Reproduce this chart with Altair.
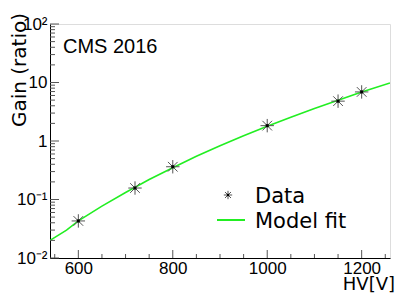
import altair as alt
import pandas as pd

# Measured data (gain ratio vs HV)
hv_data = [600, 720, 800, 1000, 1150, 1200]
gain_data = [0.043, 0.157, 0.363, 1.83, 4.8, 6.9]

# Model fit curve
hv_fit = [540, 575, 600, 650, 700, 750, 800, 850, 900, 950, 1000, 1050, 1100, 1150, 1200, 1260]
gain_fit = [0.020, 0.030, 0.043, 0.077, 0.132, 0.22, 0.35, 0.547, 0.83, 1.23, 1.79, 2.55, 3.59, 4.97, 6.85, 9.8]

x_major = [600, 800, 1000, 1200]
x_minor = [550, 650, 700, 750, 850, 900, 950, 1050, 1100, 1150, 1250]
y_major = [0.01, 0.1, 1, 10, 100]
y_minor = [m * d for d in [0.01, 0.1, 1, 10] for m in range(2, 10)]

W, H = 340, 234
FONT = "Liberation Sans"
LF = "DejaVu Sans"

xs = alt.Scale(domain=[540, 1260], nice=False, zero=False)
ys = alt.Scale(type="log", domain=[0.01, 100], nice=False)

df = pd.DataFrame({"hv": hv_data, "gain": gain_data})
fit = pd.DataFrame({"hv": hv_fit, "gain": gain_fit})

ylabel_expr = ("datum.value > 50 ? '10²' : datum.value > 5 ? '10' : datum.value > 0.5 ? '1' : "
               "datum.value > 0.05 ? '10⁻¹' : '10⁻²'")

base_x = alt.X("hv:Q", scale=xs,
               axis=alt.Axis(values=x_major, ticks=False, grid=False, title=None, format="d",
                             labelFont=FONT, labelFontSize=17, labelColor="black",
                             labelPadding=2, domainColor="black", labelFlush=False))
base_y = alt.Y("gain:Q", scale=ys,
               axis=alt.Axis(values=y_major, ticks=False, grid=False, title=None,
                             labelExpr=ylabel_expr, labelFont=FONT, labelFontSize=17,
                             labelColor="black", labelPadding=3, domainColor="black",
                             labelFlush=False))

line = alt.Chart(fit).mark_line(color="#22ee22", strokeWidth=1.6, clip=True).encode(
    x=base_x, y=base_y)

star_path = "M-1,0L1,0M0,-1L0,1M-0.72,-0.72L0.72,0.72M-0.72,0.72L0.72,-0.72"
pts = alt.Chart(df).mark_point(shape=star_path, size=180, stroke="#555555",
                               strokeWidth=1, filled=False, opacity=1).encode(
    x=alt.X("hv:Q", scale=xs), y=alt.Y("gain:Q", scale=ys))
ctr = alt.Chart(df).mark_point(shape="square", size=9, color="black", filled=True, opacity=1).encode(
    x=alt.X("hv:Q", scale=xs), y=alt.Y("gain:Q", scale=ys))

# Inward ticks
yt_major = alt.Chart(pd.DataFrame({"v": y_major})).mark_rule(color="#555", strokeWidth=1).encode(
    y=alt.Y("v:Q", scale=ys), x=alt.value(0), x2=alt.value(9))
yt_minor = alt.Chart(pd.DataFrame({"v": y_minor})).mark_rule(color="#555", strokeWidth=1).encode(
    y=alt.Y("v:Q", scale=ys), x=alt.value(0), x2=alt.value(5))
xt_major = alt.Chart(pd.DataFrame({"v": x_major})).mark_rule(color="#555", strokeWidth=1).encode(
    x=alt.X("v:Q", scale=xs), y=alt.value(H), y2=alt.value(H - 8))
xt_minor = alt.Chart(pd.DataFrame({"v": x_minor})).mark_rule(color="#555", strokeWidth=1).encode(
    x=alt.X("v:Q", scale=xs), y=alt.value(H), y2=alt.value(H - 4))

# Texts
cms = alt.Chart(pd.DataFrame({"t": ["CMS 2016"]})).mark_text(
    font=FONT, fontSize=20, align="left", baseline="alphabetic", color="black").encode(
    text="t:N", x=alt.value(13), y=alt.value(29))
ytitle = alt.Chart(pd.DataFrame({"t": ["Gain (ratio)"]})).mark_text(
    font=LF, fontSize=20, align="right", baseline="alphabetic", angle=270, color="black").encode(
    text="t:N", x=alt.value(-24), y=alt.value(-11))
xtitle = alt.Chart(pd.DataFrame({"t": ["HV[V]"]})).mark_text(
    font=LF, fontSize=18, align="right", baseline="alphabetic", color="black").encode(
    text="t:N", x=alt.value(W + 5), y=alt.value(H + 32))

# Legend
leg_txt = alt.Chart(pd.DataFrame({"t": ["Data", "Model fit"], "yy": [H - 55, H - 30]})).mark_text(
    font=LF, fontSize=21, align="left", baseline="alphabetic", color="black").encode(
    text="t:N", x=alt.value(205), y=alt.Y("yy:Q", scale=None))
leg_star = alt.Chart(pd.DataFrame({"a": [1]})).mark_point(
    shape=star_path, size=70, stroke="#555555", strokeWidth=1, filled=False, opacity=1).encode(
    x=alt.value(178), y=alt.value(H - 63))
leg_ctr = alt.Chart(pd.DataFrame({"a": [1]})).mark_point(
    shape="square", size=5, color="black", filled=True, opacity=1).encode(
    x=alt.value(178), y=alt.value(H - 63))
leg_line = alt.Chart(pd.DataFrame({"a": [1]})).mark_rule(color="#22ee22", strokeWidth=2).encode(
    x=alt.value(167), x2=alt.value(195), y=alt.value(H - 38))

chart = alt.layer(
    line, yt_minor, yt_major, xt_minor, xt_major, pts, ctr,
    cms, ytitle, xtitle, leg_txt, leg_star, leg_ctr, leg_line
).properties(
    width=W, height=H,
    autosize=alt.AutoSizeParams(type="none"),
    padding={"left": 42, "top": 16, "right": 9, "bottom": 36},
).configure_view(stroke="#444", strokeWidth=1).configure(background="white")

chart.save("out.html", embed_options={"renderer": "svg", "actions": False})
